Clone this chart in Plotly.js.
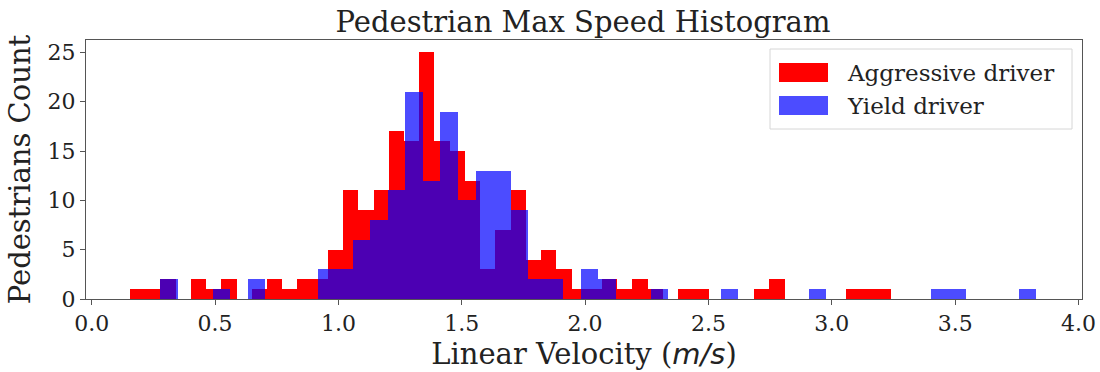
<!DOCTYPE html>
<html>
<head>
<meta charset="utf-8">
<script src="https://cdn.plot.ly/plotly-3.0.1.min.js"></script>
<style>
  html, body { margin: 0; padding: 0; background: #ffffff; }
  #chart { width: 1100px; height: 372px; }
</style>
</head>
<body>
<div id="chart"></div>
<script>
// ---- Data (matplotlib-style hist, 50 bins each) ----
const seriesNames = ["Aggressive driver", "Yield driver"];

// Aggressive driver: bin range and counts per bin
const aggressiveRange = [0.155, 3.241];
const aggressiveCounts = [1, 1, 2, 0, 2, 1, 2, 0, 1, 2,
                          1, 2, 2, 5, 11, 9, 11, 17, 16, 25,
                          16, 15, 12, 3, 7, 11, 4, 5, 3, 1,
                          1, 2, 1, 2, 1, 0, 1, 1, 0, 0,
                          0, 1, 2, 0, 0, 0, 0, 1, 1, 1];

// Yield driver: bin range and counts per bin
const yieldRange = [0.277, 3.829];
const yieldCounts = [2, 0, 0, 1, 0, 2, 0, 0, 0, 3,
                     3, 6, 8, 11, 21, 12, 19, 10, 13, 13,
                     9, 2, 2, 0, 3, 2, 0, 0, 1, 0,
                     0, 0, 1, 0, 0, 0, 0, 1, 0, 0,
                     0, 0, 0, 0, 1, 1, 0, 0, 0, 1];

const xTickVals = [0.0, 0.5, 1.0, 1.5, 2.0, 2.5, 3.0, 3.5, 4.0];
const xTickText = ["0.0", "0.5", "1.0", "1.5", "2.0", "2.5", "3.0", "3.5", "4.0"];
const yTickVals = [0, 5, 10, 15, 20, 25];

// ---- Build bars from bin ranges ----
function binCenters(range, counts) {
  const w = (range[1] - range[0]) / counts.length;
  return { x: counts.map((_, i) => range[0] + (i + 0.5) * w), w: w };
}
const ag = binCenters(aggressiveRange, aggressiveCounts);
const yi = binCenters(yieldRange, yieldCounts);

const SERIF = "DejaVu Serif, serif";

const traces = [
  {
    type: "bar", name: seriesNames[0],
    x: ag.x, y: aggressiveCounts, width: ag.w,
    marker: { color: "rgb(255,0,0)", line: { width: 0 } },
    hoverinfo: "skip", showlegend: false
  },
  {
    type: "bar", name: seriesNames[1],
    x: yi.x, y: yieldCounts, width: yi.w,
    marker: { color: "rgba(0,0,255,0.7)", line: { width: 0 } },
    hoverinfo: "skip", showlegend: false
  }
];

// plot area in pixels
const PL = 86, PR = 1082, PT = 40, PB = 299;
const px = v => (v - PL) / (PR - PL);
const py = v => (PB - v) / (PB - PT);

const legendShapes = [
  { type: "rect", xref: "paper", yref: "paper",
    x0: px(770), x1: px(1072), y0: py(129), y1: py(49),
    line: { color: "#d6d6d6", width: 1 }, fillcolor: "rgba(255,255,255,0.8)" },
  { type: "rect", xref: "paper", yref: "paper",
    x0: px(779), x1: px(828), y0: py(82), y1: py(63),
    line: { width: 0 }, fillcolor: "rgb(255,0,0)" },
  { type: "rect", xref: "paper", yref: "paper",
    x0: px(779), x1: px(828), y0: py(115), y1: py(96),
    line: { width: 0 }, fillcolor: "rgba(0,0,255,0.7)" }
];
const legendText = [
  { xref: "paper", yref: "paper", x: px(845), y: py(73), xanchor: "left", yanchor: "middle",
    text: seriesNames[0], showarrow: false, font: { family: SERIF, size: 23, color: "#222" } },
  { xref: "paper", yref: "paper", x: px(845), y: py(106), xanchor: "left", yanchor: "middle",
    text: seriesNames[1], showarrow: false, font: { family: SERIF, size: 23, color: "#222" } }
];

const layout = {
  width: 1100, height: 372,
  margin: { l: PL, r: 1100 - PR, t: PT, b: 372 - PB, pad: 0 },
  paper_bgcolor: "#ffffff", plot_bgcolor: "#ffffff",
  barmode: "overlay", bargap: 0,
  showlegend: false,
  title: {
    text: "Pedestrian Max Speed Histogram",
    font: { family: SERIF, size: 29, color: "#222" },
    x: px(583), xanchor: "center", xref: "paper",
    y: 1 - 22 / 372, yanchor: "middle", yref: "container"
  },
  xaxis: {
    range: [-0.023, 4.014],
    tickvals: xTickVals, ticktext: xTickText,
    ticks: "outside", ticklen: 5, tickwidth: 1, tickcolor: "#555",
    showline: true, mirror: true, linecolor: "#555", linewidth: 1,
    showgrid: false, zeroline: false,
    tickfont: { family: SERIF, size: 22, color: "#222" },
    title: {
      text: "Linear Velocity (<span style=\"font-family:DejaVu Sans\"><i>m/s</i></span>)",
      font: { family: SERIF, size: 29, color: "#222" },
      standoff: 8
    }
  },
  yaxis: {
    range: [0, 26.25],
    tickvals: yTickVals,
    ticks: "outside", ticklen: 5, tickwidth: 1, tickcolor: "#555",
    showline: true, mirror: true, linecolor: "#555", linewidth: 1,
    showgrid: false, zeroline: false,
    tickfont: { family: SERIF, size: 22, color: "#222" },
    title: {
      text: "Pedestrians Count",
      font: { family: SERIF, size: 29, color: "#222" },
      standoff: 8
    }
  },
  shapes: legendShapes,
  annotations: legendText
};

Plotly.newPlot("chart", traces, layout, { displayModeBar: false, staticPlot: true });
</script>
</body>
</html>
